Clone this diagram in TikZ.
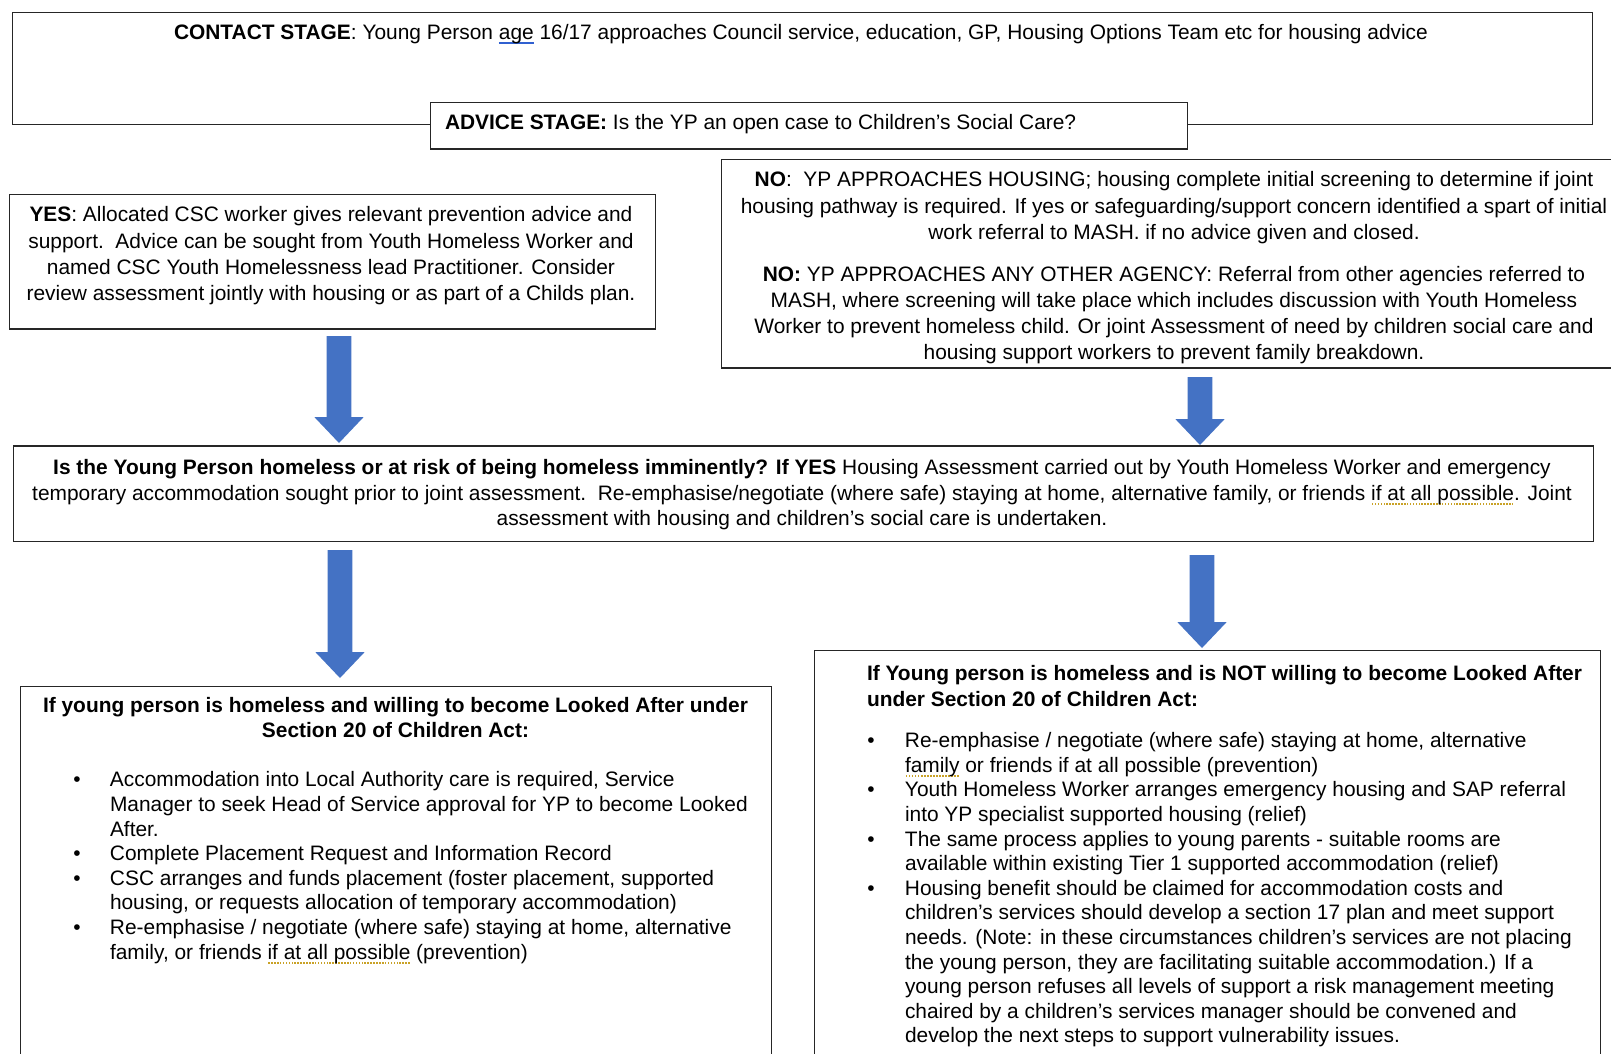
\documentclass[tikz,border=0pt]{standalone}
\usepackage{fontspec}
\setmainfont{Liberation Sans}
\usetikzlibrary{calc}
\definecolor{arrowblue}{HTML}{4472C4}
\definecolor{boxline}{HTML}{262626}
\definecolor{dotgold}{HTML}{C9A227}
\definecolor{ulblue}{HTML}{3060D0}
\newcommand\golddots[1]{\setbox0\hbox{#1}\rlap{\raisebox{-4.5pt}{\textcolor{dotgold}{\hbox to \wd0{\xleaders\hbox to 2.9pt{\hss\rule{1.6pt}{1.6pt}\hss}\hfil}}}}\box0\relax}
\newcommand\blueul[1]{\setbox0\hbox{#1}\rlap{\textcolor{ulblue}{\rule[-3.8pt]{\wd0}{1.3pt}}}\box0\relax}
\newcommand\blockarrow[2]{%
  \fill[arrowblue] ($(#1)+(-12.3,0)$) -- ($(#1)+(12.3,0)$) -- ($(#2)+(12.3,-26)$)
    -- ($(#2)+(24.7,-26)$) -- (#2) -- ($(#2)+(-24.7,-26)$) -- ($(#2)+(-12.3,-26)$) -- cycle;}
\tikzset{
  box/.style={draw=boxline, line width=1.4pt, fill=white, inner sep=0pt, outer sep=0pt, anchor=north west},
  txt/.style={inner sep=0pt, outer sep=0pt, font=\fontsize{20.9}{26}\selectfont},
  bs/.style={font=\fontsize{20.9}{#1}\selectfont}
}
\begin{document}
\begin{tikzpicture}[x=1pt,y=-1pt]
\useasboundingbox (0,0) rectangle (1611,1054);
\clip (0,0) rectangle (1611,1054);
\fill[white] (0,0) rectangle (1611,1054);

% boxes
\node[box, minimum width=1580.2pt, minimum height=112pt] (contact) at (12.3,12.3) {};
\node[box, minimum width=757.2pt, minimum height=46.3pt] (advice) at (430.5,102.7) {};
\node[box, minimum width=646.3pt, minimum height=134.6pt] (yes) at (9.2,194.2) {};
\node[box, minimum width=893.8pt, minimum height=208.6pt] (no) at (721.2,159.2) {};
\node[box, minimum width=1580.1pt, minimum height=95.5pt] (mid) at (13.4,445.9) {};
\node[box, minimum width=751.1pt, minimum height=383.7pt] (bl) at (20.5,686.3) {};
\node[box, minimum width=786pt, minimum height=419.7pt] (br) at (814.7,650.3) {};

% texts
\node[txt, anchor=base] (contactT) at (801,40) {\textbf{CONTACT STAGE}: Young Person \blueul{age} 16/17 approaches Council service, education, GP, Housing Options Team etc for housing advice};
\node[txt, anchor=base west] (adviceT) at (445,130) {\textbf{ADVICE STAGE:} Is the YP an open case to Children’s Social Care?};

\node[txt, bs=26.4, anchor=north, align=center] (yesT) at (331,203.2) {%
\strut\textbf{YES}: Allocated CSC worker gives relevant prevention advice and\\
\strut support.\ \ Advice can be sought from Youth Homeless Worker and\\
\strut named CSC Youth Homelessness lead Practitioner. Consider\\
\strut review assessment jointly with housing or as part of a Childs plan.};

\node[txt, bs=26.2, anchor=north, align=center] (noT1) at (1174,168.5) {%
\strut\textbf{NO}:\ \ YP APPROACHES HOUSING; housing complete initial screening to determine if joint\\
\strut housing pathway is required. If yes or safeguarding/support concern identified a spart of initial\\
\strut work referral to MASH. if no advice given and closed.};

\node[txt, bs=26, anchor=north, align=center] (noT2) at (1174,263.1) {%
\strut\textbf{NO:} YP APPROACHES ANY OTHER AGENCY: Referral from other agencies referred to\\
\strut MASH, where screening will take place which includes discussion with Youth Homeless\\
\strut Worker to prevent homeless child. Or joint Assessment of need by children social care and\\
\strut housing support workers to prevent family breakdown.};

\node[txt, bs=25.7, anchor=north, align=center] (midT) at (802,456.4) {%
\strut\textbf{Is the Young Person homeless or at risk of being homeless imminently? If YES} Housing Assessment carried out by Youth Homeless Worker and emergency\\
\strut temporary accommodation sought prior to joint assessment.\ \ Re-emphasise/negotiate (where safe) staying at home, alternative family, or friends \golddots{if at all possible}. Joint\\
\strut assessment with housing and children’s social care is undertaken.};

\node[txt, bs=24.7, anchor=north, align=center] (blH) at (395.5,695.5) {%
\strut\textbf{If young person is homeless and willing to become Looked After under}\\
\strut\textbf{Section 20 of Children Act:}};

\node[txt, bs=24.6, anchor=north west, align=left] (blL) at (110,769.6) {%
\strut\llap{•\hspace{29.3pt}}Accommodation into Local Authority care is required, Service\\
\strut Manager to seek Head of Service approval for YP to become Looked\\
\strut After.\\
\strut\llap{•\hspace{29.3pt}}Complete Placement Request and Information Record\\
\strut\llap{•\hspace{29.3pt}}CSC arranges and funds placement (foster placement, supported\\
\strut housing, or requests allocation of temporary accommodation)\\
\strut\llap{•\hspace{29.3pt}}Re-emphasise / negotiate (where safe) staying at home, alternative\\
\strut family, or friends \golddots{if at all possible} (prevention)};

\node[txt, bs=26.6, anchor=north west, align=left] (brH) at (867,661.4) {%
\strut\textbf{If Young person is homeless and is NOT willing to become Looked After}\\
\strut\textbf{under Section 20 of Children Act:}};

\node[txt, bs=24.6, anchor=north west, align=left] (brL) at (905,730.5) {%
\strut\llap{•\hspace{30.4pt}}Re-emphasise / negotiate (where safe) staying at home, alternative\\
\strut\golddots{family} or friends if at all possible (prevention)\\
\strut\llap{•\hspace{30.4pt}}Youth Homeless Worker arranges emergency housing and SAP referral\\
\strut into YP specialist supported housing (relief)\\
\strut\llap{•\hspace{30.4pt}}The same process applies to young parents - suitable rooms are\\
\strut available within existing Tier 1 supported accommodation (relief)\\
\strut\llap{•\hspace{30.4pt}}Housing benefit should be claimed for accommodation costs and\\
\strut children’s services should develop a section 17 plan and meet support\\
\strut needs. (Note: in these circumstances children’s services are not placing\\
\strut the young person, they are facilitating suitable accommodation.) If a\\
\strut young person refuses all levels of support a risk management meeting\\
\strut chaired by a children’s services manager should be convened and\\
\strut develop the next steps to support vulnerability issues.};

% block arrows
\coordinate (a1s) at (339,336);  \coordinate (a1e) at (339,443);
\coordinate (a2s) at (1200,377); \coordinate (a2e) at (1200,445);
\coordinate (a3s) at (340,550);  \coordinate (a3e) at (340,678);
\coordinate (a4s) at (1202,555); \coordinate (a4e) at (1202,648);
\blockarrow{a1s}{a1e}
\blockarrow{a2s}{a2e}
\blockarrow{a3s}{a3e}
\blockarrow{a4s}{a4e}
\end{tikzpicture}
\end{document}
